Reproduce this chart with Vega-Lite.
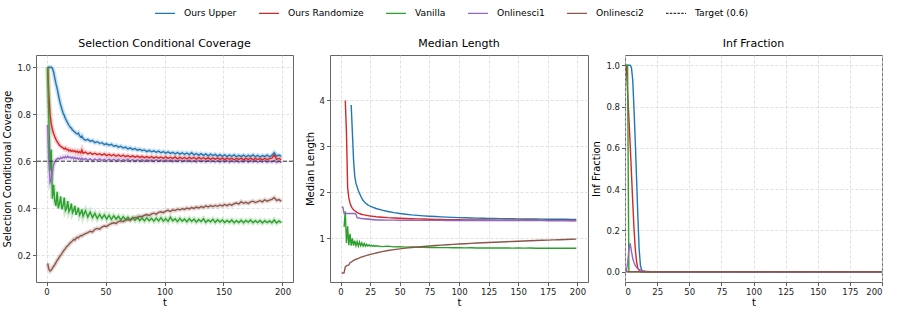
{
"$schema": "https://vega.github.io/schema/vega-lite/v6.json",
"padding": {"left": 2, "top": 2, "right": 5, "bottom": 5},
"autosize": {"type": "pad"},
"spacing": 37,
"bounds": "flush",
"config": {
  "font": "DejaVu Sans",
  "view": {"stroke": "#666", "strokeWidth": 1},
  "title": {"font": "DejaVu Sans", "fontSize": 11, "fontWeight": "normal", "color": "#000", "offset": 6},
  "axis": {"labelFont": "DejaVu Sans", "labelFontSize": 8.5, "labelColor": "#222", "titleFont": "DejaVu Sans", "titleFontSize": 10, "titleFontWeight": "normal", "titleColor": "#000", "tickColor": "#333", "tickSize": 3.5, "tickWidth": 0.8, "domain": false, "grid": true, "gridColor": "#d4d4d4", "gridDash": [3, 2], "gridWidth": 0.7, "labelPadding": 2},
  "axisX": {"titlePadding": 1},
  "axisY": {"titlePadding": 4},
  "line": {"strokeWidth": 1.4, "clip": true}
},
"datasets": {
"tgt": [{"s": "Target (0.6)", "v": 0.6}],
"p1": [
{"t":1,"Ours Upper":1.0,"Ours Randomize":1.0,"Vanilla":1.0,"Onlinesci1":0.755,"Onlinesci2":0.165},
{"t":2,"Ours Upper":1.0,"Ours Randomize":0.88,"Vanilla":0.78,"Onlinesci1":0.6,"Onlinesci2":0.14},
{"t":3,"Ours Upper":1.0,"Ours Randomize":0.8,"Vanilla":0.56,"Onlinesci1":0.51,"Onlinesci2":0.133},
{"t":4,"Ours Upper":1.0,"Ours Randomize":0.76,"Vanilla":0.65,"Onlinesci1":0.52,"Onlinesci2":0.137},
{"t":5,"Ours Upper":0.995,"Ours Randomize":0.735,"Vanilla":0.44,"Onlinesci1":0.555,"Onlinesci2":0.145},
{"t":6,"Ours Upper":0.98,"Ours Randomize":0.718,"Vanilla":0.5,"Onlinesci1":0.585,"Onlinesci2":0.152},
{"t":7,"Ours Upper":0.955,"Ours Randomize":0.705,"Vanilla":0.43,"Onlinesci1":0.597,"Onlinesci2":0.16},
{"t":8,"Ours Upper":0.93,"Ours Randomize":0.693,"Vanilla":0.41,"Onlinesci1":0.605,"Onlinesci2":0.168},
{"t":9,"Ours Upper":0.91,"Ours Randomize":0.683,"Vanilla":0.47,"Onlinesci1":0.61,"Onlinesci2":0.178},
{"t":10,"Ours Upper":0.885,"Ours Randomize":0.676,"Vanilla":0.4,"Onlinesci1":0.612,"Onlinesci2":0.185},
{"t":11,"Ours Upper":0.86,"Ours Randomize":0.668,"Vanilla":0.42,"Onlinesci1":0.609,"Onlinesci2":0.193},
{"t":12,"Ours Upper":0.84,"Ours Randomize":0.664,"Vanilla":0.45,"Onlinesci1":0.615,"Onlinesci2":0.2},
{"t":13,"Ours Upper":0.822,"Ours Randomize":0.66,"Vanilla":0.395,"Onlinesci1":0.612,"Onlinesci2":0.207},
{"t":14,"Ours Upper":0.806,"Ours Randomize":0.657,"Vanilla":0.41,"Onlinesci1":0.618,"Onlinesci2":0.215},
{"t":15,"Ours Upper":0.795,"Ours Randomize":0.652,"Vanilla":0.445,"Onlinesci1":0.614,"Onlinesci2":0.222},
{"t":16,"Ours Upper":0.782,"Ours Randomize":0.656,"Vanilla":0.39,"Onlinesci1":0.62,"Onlinesci2":0.228},
{"t":17,"Ours Upper":0.772,"Ours Randomize":0.649,"Vanilla":0.4,"Onlinesci1":0.615,"Onlinesci2":0.236},
{"t":18,"Ours Upper":0.762,"Ours Randomize":0.651,"Vanilla":0.43,"Onlinesci1":0.621,"Onlinesci2":0.24},
{"t":19,"Ours Upper":0.753,"Ours Randomize":0.644,"Vanilla":0.385,"Onlinesci1":0.616,"Onlinesci2":0.246},
{"t":20,"Ours Upper":0.745,"Ours Randomize":0.648,"Vanilla":0.395,"Onlinesci1":0.618,"Onlinesci2":0.252},
{"t":21,"Ours Upper":0.741,"Ours Randomize":0.642,"Vanilla":0.42,"Onlinesci1":0.613,"Onlinesci2":0.256},
{"t":22,"Ours Upper":0.733,"Ours Randomize":0.646,"Vanilla":0.38,"Onlinesci1":0.617,"Onlinesci2":0.261},
{"t":23,"Ours Upper":0.729,"Ours Randomize":0.641,"Vanilla":0.39,"Onlinesci1":0.611,"Onlinesci2":0.267},
{"t":24,"Ours Upper":0.724,"Ours Randomize":0.645,"Vanilla":0.41,"Onlinesci1":0.616,"Onlinesci2":0.264},
{"t":25,"Ours Upper":0.719,"Ours Randomize":0.638,"Vanilla":0.372,"Onlinesci1":0.61,"Onlinesci2":0.272},
{"t":26,"Ours Upper":0.716,"Ours Randomize":0.643,"Vanilla":0.385,"Onlinesci1":0.614,"Onlinesci2":0.276},
{"t":27,"Ours Upper":0.72,"Ours Randomize":0.636,"Vanilla":0.402,"Onlinesci1":0.608,"Onlinesci2":0.274},
{"t":28,"Ours Upper":0.709,"Ours Randomize":0.641,"Vanilla":0.37,"Onlinesci1":0.613,"Onlinesci2":0.28},
{"t":29,"Ours Upper":0.703,"Ours Randomize":0.635,"Vanilla":0.38,"Onlinesci1":0.607,"Onlinesci2":0.284},
{"t":30,"Ours Upper":0.707,"Ours Randomize":0.648,"Vanilla":0.395,"Onlinesci1":0.612,"Onlinesci2":0.282},
{"t":31,"Ours Upper":0.696,"Ours Randomize":0.634,"Vanilla":0.366,"Onlinesci1":0.606,"Onlinesci2":0.287},
{"t":33,"Ours Upper":0.689,"Ours Randomize":0.639,"Vanilla":0.39,"Onlinesci1":0.611,"Onlinesci2":0.292},
{"t":35,"Ours Upper":0.693,"Ours Randomize":0.631,"Vanilla":0.362,"Onlinesci1":0.604,"Onlinesci2":0.296},
{"t":37,"Ours Upper":0.685,"Ours Randomize":0.636,"Vanilla":0.384,"Onlinesci1":0.61,"Onlinesci2":0.302},
{"t":39,"Ours Upper":0.688,"Ours Randomize":0.629,"Vanilla":0.36,"Onlinesci1":0.603,"Onlinesci2":0.299},
{"t":41,"Ours Upper":0.679,"Ours Randomize":0.634,"Vanilla":0.378,"Onlinesci1":0.609,"Onlinesci2":0.31},
{"t":43,"Ours Upper":0.683,"Ours Randomize":0.628,"Vanilla":0.356,"Onlinesci1":0.604,"Onlinesci2":0.314},
{"t":45,"Ours Upper":0.676,"Ours Randomize":0.632,"Vanilla":0.374,"Onlinesci1":0.61,"Onlinesci2":0.311},
{"t":47,"Ours Upper":0.679,"Ours Randomize":0.626,"Vanilla":0.357,"Onlinesci1":0.603,"Onlinesci2":0.32},
{"t":49,"Ours Upper":0.671,"Ours Randomize":0.631,"Vanilla":0.372,"Onlinesci1":0.608,"Onlinesci2":0.324},
{"t":51,"Ours Upper":0.674,"Ours Randomize":0.624,"Vanilla":0.354,"Onlinesci1":0.602,"Onlinesci2":0.322},
{"t":53,"Ours Upper":0.668,"Ours Randomize":0.629,"Vanilla":0.37,"Onlinesci1":0.609,"Onlinesci2":0.33},
{"t":55,"Ours Upper":0.672,"Ours Randomize":0.623,"Vanilla":0.352,"Onlinesci1":0.603,"Onlinesci2":0.334},
{"t":57,"Ours Upper":0.664,"Ours Randomize":0.628,"Vanilla":0.368,"Onlinesci1":0.608,"Onlinesci2":0.338},
{"t":59,"Ours Upper":0.667,"Ours Randomize":0.621,"Vanilla":0.354,"Onlinesci1":0.602,"Onlinesci2":0.335},
{"t":61,"Ours Upper":0.66,"Ours Randomize":0.627,"Vanilla":0.366,"Onlinesci1":0.608,"Onlinesci2":0.343},
{"t":63,"Ours Upper":0.664,"Ours Randomize":0.62,"Vanilla":0.35,"Onlinesci1":0.601,"Onlinesci2":0.346},
{"t":65,"Ours Upper":0.656,"Ours Randomize":0.626,"Vanilla":0.364,"Onlinesci1":0.607,"Onlinesci2":0.343},
{"t":67,"Ours Upper":0.66,"Ours Randomize":0.619,"Vanilla":0.351,"Onlinesci1":0.602,"Onlinesci2":0.35},
{"t":69,"Ours Upper":0.652,"Ours Randomize":0.624,"Vanilla":0.362,"Onlinesci1":0.608,"Onlinesci2":0.352},
{"t":71,"Ours Upper":0.657,"Ours Randomize":0.618,"Vanilla":0.35,"Onlinesci1":0.601,"Onlinesci2":0.349},
{"t":73,"Ours Upper":0.65,"Ours Randomize":0.623,"Vanilla":0.36,"Onlinesci1":0.607,"Onlinesci2":0.357},
{"t":75,"Ours Upper":0.654,"Ours Randomize":0.617,"Vanilla":0.348,"Onlinesci1":0.6,"Onlinesci2":0.361},
{"t":77,"Ours Upper":0.647,"Ours Randomize":0.622,"Vanilla":0.362,"Onlinesci1":0.606,"Onlinesci2":0.358},
{"t":79,"Ours Upper":0.651,"Ours Randomize":0.616,"Vanilla":0.347,"Onlinesci1":0.601,"Onlinesci2":0.366},
{"t":81,"Ours Upper":0.645,"Ours Randomize":0.621,"Vanilla":0.358,"Onlinesci1":0.607,"Onlinesci2":0.364},
{"t":83,"Ours Upper":0.648,"Ours Randomize":0.615,"Vanilla":0.346,"Onlinesci1":0.6,"Onlinesci2":0.37},
{"t":85,"Ours Upper":0.641,"Ours Randomize":0.62,"Vanilla":0.359,"Onlinesci1":0.606,"Onlinesci2":0.373},
{"t":87,"Ours Upper":0.646,"Ours Randomize":0.614,"Vanilla":0.347,"Onlinesci1":0.601,"Onlinesci2":0.369},
{"t":89,"Ours Upper":0.64,"Ours Randomize":0.62,"Vanilla":0.357,"Onlinesci1":0.605,"Onlinesci2":0.376},
{"t":91,"Ours Upper":0.644,"Ours Randomize":0.613,"Vanilla":0.345,"Onlinesci1":0.599,"Onlinesci2":0.379},
{"t":93,"Ours Upper":0.638,"Ours Randomize":0.619,"Vanilla":0.358,"Onlinesci1":0.606,"Onlinesci2":0.375},
{"t":95,"Ours Upper":0.643,"Ours Randomize":0.613,"Vanilla":0.346,"Onlinesci1":0.6,"Onlinesci2":0.382},
{"t":97,"Ours Upper":0.636,"Ours Randomize":0.618,"Vanilla":0.36,"Onlinesci1":0.605,"Onlinesci2":0.385},
{"t":99,"Ours Upper":0.641,"Ours Randomize":0.612,"Vanilla":0.345,"Onlinesci1":0.599,"Onlinesci2":0.381},
{"t":101,"Ours Upper":0.634,"Ours Randomize":0.619,"Vanilla":0.356,"Onlinesci1":0.606,"Onlinesci2":0.388},
{"t":103,"Ours Upper":0.64,"Ours Randomize":0.612,"Vanilla":0.344,"Onlinesci1":0.6,"Onlinesci2":0.391},
{"t":105,"Ours Upper":0.633,"Ours Randomize":0.617,"Vanilla":0.362,"Onlinesci1":0.605,"Onlinesci2":0.386},
{"t":107,"Ours Upper":0.638,"Ours Randomize":0.611,"Vanilla":0.346,"Onlinesci1":0.598,"Onlinesci2":0.393},
{"t":109,"Ours Upper":0.631,"Ours Randomize":0.618,"Vanilla":0.355,"Onlinesci1":0.604,"Onlinesci2":0.39},
{"t":111,"Ours Upper":0.637,"Ours Randomize":0.61,"Vanilla":0.343,"Onlinesci1":0.599,"Onlinesci2":0.396},
{"t":113,"Ours Upper":0.63,"Ours Randomize":0.617,"Vanilla":0.357,"Onlinesci1":0.605,"Onlinesci2":0.393},
{"t":115,"Ours Upper":0.636,"Ours Randomize":0.611,"Vanilla":0.345,"Onlinesci1":0.598,"Onlinesci2":0.398},
{"t":117,"Ours Upper":0.629,"Ours Randomize":0.616,"Vanilla":0.354,"Onlinesci1":0.604,"Onlinesci2":0.395},
{"t":119,"Ours Upper":0.635,"Ours Randomize":0.61,"Vanilla":0.342,"Onlinesci1":0.599,"Onlinesci2":0.401},
{"t":121,"Ours Upper":0.628,"Ours Randomize":0.617,"Vanilla":0.356,"Onlinesci1":0.605,"Onlinesci2":0.397},
{"t":123,"Ours Upper":0.636,"Ours Randomize":0.611,"Vanilla":0.344,"Onlinesci1":0.598,"Onlinesci2":0.403},
{"t":125,"Ours Upper":0.627,"Ours Randomize":0.616,"Vanilla":0.354,"Onlinesci1":0.603,"Onlinesci2":0.399},
{"t":127,"Ours Upper":0.633,"Ours Randomize":0.609,"Vanilla":0.341,"Onlinesci1":0.597,"Onlinesci2":0.405},
{"t":129,"Ours Upper":0.626,"Ours Randomize":0.616,"Vanilla":0.352,"Onlinesci1":0.604,"Onlinesci2":0.401},
{"t":131,"Ours Upper":0.632,"Ours Randomize":0.61,"Vanilla":0.343,"Onlinesci1":0.598,"Onlinesci2":0.407},
{"t":133,"Ours Upper":0.625,"Ours Randomize":0.615,"Vanilla":0.355,"Onlinesci1":0.603,"Onlinesci2":0.403},
{"t":135,"Ours Upper":0.631,"Ours Randomize":0.609,"Vanilla":0.34,"Onlinesci1":0.597,"Onlinesci2":0.41},
{"t":137,"Ours Upper":0.623,"Ours Randomize":0.615,"Vanilla":0.35,"Onlinesci1":0.604,"Onlinesci2":0.405},
{"t":139,"Ours Upper":0.63,"Ours Randomize":0.608,"Vanilla":0.342,"Onlinesci1":0.598,"Onlinesci2":0.411},
{"t":141,"Ours Upper":0.624,"Ours Randomize":0.614,"Vanilla":0.353,"Onlinesci1":0.602,"Onlinesci2":0.407},
{"t":143,"Ours Upper":0.629,"Ours Randomize":0.609,"Vanilla":0.34,"Onlinesci1":0.597,"Onlinesci2":0.412},
{"t":145,"Ours Upper":0.622,"Ours Randomize":0.614,"Vanilla":0.351,"Onlinesci1":0.603,"Onlinesci2":0.408},
{"t":147,"Ours Upper":0.628,"Ours Randomize":0.608,"Vanilla":0.341,"Onlinesci1":0.596,"Onlinesci2":0.414},
{"t":149,"Ours Upper":0.621,"Ours Randomize":0.613,"Vanilla":0.35,"Onlinesci1":0.602,"Onlinesci2":0.41},
{"t":151,"Ours Upper":0.627,"Ours Randomize":0.607,"Vanilla":0.339,"Onlinesci1":0.597,"Onlinesci2":0.416},
{"t":153,"Ours Upper":0.62,"Ours Randomize":0.613,"Vanilla":0.348,"Onlinesci1":0.603,"Onlinesci2":0.411},
{"t":155,"Ours Upper":0.626,"Ours Randomize":0.608,"Vanilla":0.34,"Onlinesci1":0.596,"Onlinesci2":0.417},
{"t":157,"Ours Upper":0.621,"Ours Randomize":0.612,"Vanilla":0.35,"Onlinesci1":0.602,"Onlinesci2":0.413},
{"t":159,"Ours Upper":0.627,"Ours Randomize":0.606,"Vanilla":0.338,"Onlinesci1":0.597,"Onlinesci2":0.419},
{"t":161,"Ours Upper":0.619,"Ours Randomize":0.612,"Vanilla":0.347,"Onlinesci1":0.603,"Onlinesci2":0.422},
{"t":163,"Ours Upper":0.625,"Ours Randomize":0.607,"Vanilla":0.339,"Onlinesci1":0.596,"Onlinesci2":0.418},
{"t":165,"Ours Upper":0.62,"Ours Randomize":0.613,"Vanilla":0.349,"Onlinesci1":0.601,"Onlinesci2":0.428},
{"t":167,"Ours Upper":0.626,"Ours Randomize":0.606,"Vanilla":0.338,"Onlinesci1":0.597,"Onlinesci2":0.421},
{"t":169,"Ours Upper":0.619,"Ours Randomize":0.612,"Vanilla":0.348,"Onlinesci1":0.603,"Onlinesci2":0.425},
{"t":171,"Ours Upper":0.625,"Ours Randomize":0.607,"Vanilla":0.34,"Onlinesci1":0.596,"Onlinesci2":0.42},
{"t":173,"Ours Upper":0.62,"Ours Randomize":0.613,"Vanilla":0.35,"Onlinesci1":0.602,"Onlinesci2":0.427},
{"t":175,"Ours Upper":0.627,"Ours Randomize":0.606,"Vanilla":0.338,"Onlinesci1":0.597,"Onlinesci2":0.43},
{"t":177,"Ours Upper":0.619,"Ours Randomize":0.612,"Vanilla":0.347,"Onlinesci1":0.603,"Onlinesci2":0.424},
{"t":179,"Ours Upper":0.625,"Ours Randomize":0.607,"Vanilla":0.339,"Onlinesci1":0.596,"Onlinesci2":0.428},
{"t":181,"Ours Upper":0.618,"Ours Randomize":0.611,"Vanilla":0.348,"Onlinesci1":0.601,"Onlinesci2":0.432},
{"t":183,"Ours Upper":0.624,"Ours Randomize":0.606,"Vanilla":0.337,"Onlinesci1":0.597,"Onlinesci2":0.427},
{"t":185,"Ours Upper":0.62,"Ours Randomize":0.612,"Vanilla":0.347,"Onlinesci1":0.602,"Onlinesci2":0.436},
{"t":187,"Ours Upper":0.626,"Ours Randomize":0.607,"Vanilla":0.339,"Onlinesci1":0.596,"Onlinesci2":0.43},
{"t":189,"Ours Upper":0.619,"Ours Randomize":0.611,"Vanilla":0.346,"Onlinesci1":0.601,"Onlinesci2":0.434},
{"t":191,"Ours Upper":0.625,"Ours Randomize":0.613,"Vanilla":0.338,"Onlinesci1":0.597,"Onlinesci2":0.438},
{"t":193,"Ours Upper":0.636,"Ours Randomize":0.626,"Vanilla":0.35,"Onlinesci1":0.604,"Onlinesci2":0.445},
{"t":195,"Ours Upper":0.622,"Ours Randomize":0.608,"Vanilla":0.337,"Onlinesci1":0.595,"Onlinesci2":0.433},
{"t":197,"Ours Upper":0.626,"Ours Randomize":0.612,"Vanilla":0.346,"Onlinesci1":0.6,"Onlinesci2":0.437},
{"t":199,"Ours Upper":0.621,"Ours Randomize":0.607,"Vanilla":0.338,"Onlinesci1":0.594,"Onlinesci2":0.429}
],
"p2": [
{"t":1,"Onlinesci1":1.68,"Onlinesci2":0.24},
{"t":2,"Onlinesci1":1.68,"Onlinesci2":0.245},
{"t":3,"Vanilla":1.25,"Onlinesci1":1.54,"Onlinesci2":0.25},
{"t":4,"Ours Randomize":4.0,"Vanilla":1.59,"Onlinesci1":1.54,"Onlinesci2":0.38},
{"t":5,"Ours Randomize":3.3,"Vanilla":0.9,"Onlinesci1":1.54,"Onlinesci2":0.4},
{"t":6,"Ours Randomize":2.1,"Vanilla":1.26,"Onlinesci1":1.54,"Onlinesci2":0.41},
{"t":7,"Ours Randomize":1.88,"Vanilla":0.85,"Onlinesci1":1.54,"Onlinesci2":0.42},
{"t":8,"Ours Randomize":1.77,"Vanilla":1.1,"Onlinesci1":1.54,"Onlinesci2":0.47},
{"t":9,"Ours Upper":3.9,"Ours Randomize":1.7,"Vanilla":0.84,"Onlinesci1":1.54,"Onlinesci2":0.48},
{"t":10,"Ours Upper":3.3,"Ours Randomize":1.65,"Vanilla":1.0,"Onlinesci1":1.54,"Onlinesci2":0.5},
{"t":11,"Ours Upper":2.7,"Ours Randomize":1.62,"Vanilla":0.84,"Onlinesci1":1.54,"Onlinesci2":0.52},
{"t":12,"Ours Upper":2.35,"Ours Randomize":1.6,"Vanilla":0.95,"Onlinesci1":1.54,"Onlinesci2":0.53},
{"t":13,"Ours Upper":2.2,"Ours Randomize":1.58,"Vanilla":0.84,"Onlinesci1":1.53,"Onlinesci2":0.545},
{"t":14,"Ours Upper":2.12,"Ours Randomize":1.565,"Vanilla":0.93,"Onlinesci1":1.45,"Onlinesci2":0.555},
{"t":15,"Ours Upper":2.04,"Ours Randomize":1.55,"Vanilla":0.83,"Onlinesci1":1.44,"Onlinesci2":0.565},
{"t":16,"Ours Upper":1.98,"Ours Randomize":1.54,"Vanilla":0.92,"Onlinesci1":1.445,"Onlinesci2":0.575},
{"t":17,"Ours Upper":1.92,"Ours Randomize":1.53,"Vanilla":0.84,"Onlinesci1":1.43,"Onlinesci2":0.585},
{"t":18,"Ours Upper":1.87,"Ours Randomize":1.52,"Vanilla":0.9,"Onlinesci1":1.435,"Onlinesci2":0.595},
{"t":19,"Ours Upper":1.83,"Ours Randomize":1.515,"Vanilla":0.83,"Onlinesci1":1.425,"Onlinesci2":0.605},
{"t":20,"Ours Upper":1.8,"Ours Randomize":1.51,"Vanilla":0.89,"Onlinesci1":1.43,"Onlinesci2":0.612},
{"t":21,"Ours Upper":1.77,"Ours Randomize":1.505,"Vanilla":0.83,"Onlinesci1":1.42,"Onlinesci2":0.62},
{"t":22,"Ours Upper":1.75,"Ours Randomize":1.5,"Vanilla":0.87,"Onlinesci1":1.425,"Onlinesci2":0.628},
{"t":23,"Ours Upper":1.73,"Ours Randomize":1.495,"Vanilla":0.83,"Onlinesci1":1.415,"Onlinesci2":0.635},
{"t":24,"Ours Upper":1.715,"Ours Randomize":1.49,"Vanilla":0.86,"Onlinesci1":1.42,"Onlinesci2":0.642},
{"t":25,"Ours Upper":1.7,"Ours Randomize":1.487,"Vanilla":0.83,"Onlinesci1":1.41,"Onlinesci2":0.65},
{"t":26,"Ours Upper":1.69,"Ours Randomize":1.484,"Vanilla":0.85,"Onlinesci1":1.415,"Onlinesci2":0.656},
{"t":27,"Ours Upper":1.68,"Ours Randomize":1.48,"Vanilla":0.825,"Onlinesci1":1.405,"Onlinesci2":0.662},
{"t":28,"Ours Upper":1.67,"Ours Randomize":1.477,"Vanilla":0.845,"Onlinesci1":1.41,"Onlinesci2":0.668},
{"t":29,"Ours Upper":1.66,"Ours Randomize":1.474,"Vanilla":0.825,"Onlinesci1":1.405,"Onlinesci2":0.674},
{"t":30,"Ours Upper":1.65,"Ours Randomize":1.471,"Vanilla":0.84,"Onlinesci1":1.4,"Onlinesci2":0.68},
{"t":35,"Ours Upper":1.615,"Ours Randomize":1.46,"Vanilla":0.82,"Onlinesci1":1.4,"Onlinesci2":0.71},
{"t":40,"Ours Upper":1.585,"Ours Randomize":1.45,"Vanilla":0.83,"Onlinesci1":1.397,"Onlinesci2":0.735},
{"t":45,"Ours Upper":1.56,"Ours Randomize":1.443,"Vanilla":0.815,"Onlinesci1":1.396,"Onlinesci2":0.755},
{"t":50,"Ours Upper":1.54,"Ours Randomize":1.437,"Vanilla":0.82,"Onlinesci1":1.395,"Onlinesci2":0.772},
{"t":55,"Ours Upper":1.525,"Ours Randomize":1.432,"Vanilla":0.81,"Onlinesci1":1.394,"Onlinesci2":0.787},
{"t":60,"Ours Upper":1.51,"Ours Randomize":1.428,"Vanilla":0.812,"Onlinesci1":1.393,"Onlinesci2":0.8},
{"t":65,"Ours Upper":1.5,"Ours Randomize":1.424,"Vanilla":0.805,"Onlinesci1":1.392,"Onlinesci2":0.812},
{"t":70,"Ours Upper":1.49,"Ours Randomize":1.42,"Vanilla":0.806,"Onlinesci1":1.392,"Onlinesci2":0.823},
{"t":75,"Ours Upper":1.482,"Ours Randomize":1.416,"Vanilla":0.8,"Onlinesci1":1.391,"Onlinesci2":0.833},
{"t":80,"Ours Upper":1.475,"Ours Randomize":1.413,"Vanilla":0.802,"Onlinesci1":1.391,"Onlinesci2":0.843},
{"t":85,"Ours Upper":1.468,"Ours Randomize":1.41,"Vanilla":0.797,"Onlinesci1":1.39,"Onlinesci2":0.852},
{"t":90,"Ours Upper":1.462,"Ours Randomize":1.408,"Vanilla":0.799,"Onlinesci1":1.39,"Onlinesci2":0.861},
{"t":95,"Ours Upper":1.456,"Ours Randomize":1.406,"Vanilla":0.795,"Onlinesci1":1.389,"Onlinesci2":0.869},
{"t":100,"Ours Upper":1.451,"Ours Randomize":1.404,"Vanilla":0.797,"Onlinesci1":1.389,"Onlinesci2":0.877},
{"t":105,"Ours Upper":1.447,"Ours Randomize":1.402,"Vanilla":0.793,"Onlinesci1":1.388,"Onlinesci2":0.884},
{"t":110,"Ours Upper":1.443,"Ours Randomize":1.401,"Vanilla":0.795,"Onlinesci1":1.388,"Onlinesci2":0.891},
{"t":115,"Ours Upper":1.44,"Ours Randomize":1.4,"Vanilla":0.791,"Onlinesci1":1.388,"Onlinesci2":0.898},
{"t":120,"Ours Upper":1.437,"Ours Randomize":1.399,"Vanilla":0.793,"Onlinesci1":1.387,"Onlinesci2":0.904},
{"t":125,"Ours Upper":1.434,"Ours Randomize":1.398,"Vanilla":0.79,"Onlinesci1":1.387,"Onlinesci2":0.91},
{"t":130,"Ours Upper":1.432,"Ours Randomize":1.397,"Vanilla":0.792,"Onlinesci1":1.387,"Onlinesci2":0.916},
{"t":135,"Ours Upper":1.43,"Ours Randomize":1.396,"Vanilla":0.789,"Onlinesci1":1.386,"Onlinesci2":0.922},
{"t":140,"Ours Upper":1.428,"Ours Randomize":1.395,"Vanilla":0.791,"Onlinesci1":1.386,"Onlinesci2":0.927},
{"t":145,"Ours Upper":1.426,"Ours Randomize":1.395,"Vanilla":0.788,"Onlinesci1":1.386,"Onlinesci2":0.932},
{"t":150,"Ours Upper":1.424,"Ours Randomize":1.394,"Vanilla":0.79,"Onlinesci1":1.386,"Onlinesci2":0.937},
{"t":155,"Ours Upper":1.422,"Ours Randomize":1.394,"Vanilla":0.787,"Onlinesci1":1.385,"Onlinesci2":0.942},
{"t":160,"Ours Upper":1.421,"Ours Randomize":1.393,"Vanilla":0.789,"Onlinesci1":1.385,"Onlinesci2":0.947},
{"t":165,"Ours Upper":1.42,"Ours Randomize":1.393,"Vanilla":0.786,"Onlinesci1":1.385,"Onlinesci2":0.952},
{"t":170,"Ours Upper":1.418,"Ours Randomize":1.392,"Vanilla":0.788,"Onlinesci1":1.385,"Onlinesci2":0.957},
{"t":175,"Ours Upper":1.417,"Ours Randomize":1.392,"Vanilla":0.785,"Onlinesci1":1.384,"Onlinesci2":0.961},
{"t":180,"Ours Upper":1.416,"Ours Randomize":1.391,"Vanilla":0.787,"Onlinesci1":1.384,"Onlinesci2":0.966},
{"t":185,"Ours Upper":1.415,"Ours Randomize":1.391,"Vanilla":0.784,"Onlinesci1":1.384,"Onlinesci2":0.97},
{"t":190,"Ours Upper":1.414,"Ours Randomize":1.39,"Vanilla":0.786,"Onlinesci1":1.384,"Onlinesci2":0.975},
{"t":195,"Ours Upper":1.413,"Ours Randomize":1.39,"Vanilla":0.783,"Onlinesci1":1.383,"Onlinesci2":0.979},
{"t":199,"Ours Upper":1.412,"Ours Randomize":1.39,"Vanilla":0.784,"Onlinesci1":1.383,"Onlinesci2":0.983}
],
"p3": [
{"t":1,"Ours Upper":1,"Ours Randomize":1,"Vanilla":1,"Onlinesci1":0,"Onlinesci2":0},
{"t":2,"Ours Upper":1,"Ours Randomize":0.87,"Vanilla":1,"Onlinesci1":0.04,"Onlinesci2":0},
{"t":3,"Ours Upper":1,"Ours Randomize":0.75,"Vanilla":0,"Onlinesci1":0.105,"Onlinesci2":0},
{"t":4,"Ours Upper":1,"Ours Randomize":0.62,"Vanilla":0,"Onlinesci1":0.138,"Onlinesci2":0},
{"t":5,"Ours Upper":0.99,"Ours Randomize":0.48,"Vanilla":0,"Onlinesci1":0.1,"Onlinesci2":0},
{"t":6,"Ours Upper":0.93,"Ours Randomize":0.34,"Vanilla":0,"Onlinesci1":0.065,"Onlinesci2":0},
{"t":7,"Ours Upper":0.79,"Ours Randomize":0.21,"Vanilla":0,"Onlinesci1":0.045,"Onlinesci2":0},
{"t":8,"Ours Upper":0.63,"Ours Randomize":0.11,"Vanilla":0,"Onlinesci1":0.03,"Onlinesci2":0},
{"t":9,"Ours Upper":0.45,"Ours Randomize":0.05,"Vanilla":0,"Onlinesci1":0.02,"Onlinesci2":0},
{"t":10,"Ours Upper":0.27,"Ours Randomize":0.018,"Vanilla":0,"Onlinesci1":0.014,"Onlinesci2":0},
{"t":11,"Ours Upper":0.11,"Ours Randomize":0.006,"Vanilla":0,"Onlinesci1":0.011,"Onlinesci2":0},
{"t":12,"Ours Upper":0.03,"Ours Randomize":0,"Vanilla":0,"Onlinesci1":0.008,"Onlinesci2":0},
{"t":13,"Ours Upper":0.008,"Ours Randomize":0,"Vanilla":0,"Onlinesci1":0.006,"Onlinesci2":0},
{"t":14,"Ours Upper":0.002,"Ours Randomize":0,"Vanilla":0,"Onlinesci1":0.004,"Onlinesci2":0},
{"t":15,"Ours Upper":0,"Ours Randomize":0,"Vanilla":0,"Onlinesci1":0.003,"Onlinesci2":0},
{"t":16,"Ours Upper":0,"Ours Randomize":0,"Vanilla":0,"Onlinesci1":0.002,"Onlinesci2":0},
{"t":18,"Ours Upper":0,"Ours Randomize":0,"Vanilla":0,"Onlinesci1":0.001,"Onlinesci2":0},
{"t":20,"Ours Upper":0,"Ours Randomize":0,"Vanilla":0,"Onlinesci1":0,"Onlinesci2":0},
{"t":50,"Ours Upper":0,"Ours Randomize":0,"Vanilla":0,"Onlinesci1":0,"Onlinesci2":0},
{"t":100,"Ours Upper":0,"Ours Randomize":0,"Vanilla":0,"Onlinesci1":0,"Onlinesci2":0},
{"t":150,"Ours Upper":0,"Ours Randomize":0,"Vanilla":0,"Onlinesci1":0,"Onlinesci2":0},
{"t":200,"Ours Upper":0,"Ours Randomize":0,"Vanilla":0,"Onlinesci1":0,"Onlinesci2":0}
]
},
"hconcat": [
{
  "width": 257, "height": 227,
  "title": "Selection Conditional Coverage",
  "layer": [
    {
      "data": {"name": "p1"},
      "transform": [{"fold": ["Ours Upper", "Ours Randomize", "Vanilla", "Onlinesci1", "Onlinesci2"], "as": ["s", "v"]}],
      "mark": {"type": "line", "strokeWidth": 4.5, "strokeOpacity": 0.22, "clip": true},
      "encoding": {
        "x": {"field": "t", "type": "quantitative", "scale": {"domain": [-8.9, 208.9], "nice": false, "zero": false}, "axis": {"values": [0, 25, 50, 75, 100, 125, 150, 175, 200], "title": "t"}},
        "y": {"field": "v", "type": "quantitative", "scale": {"domain": [0.086, 1.052], "nice": false, "zero": false}, "axis": {"values": [0.2, 0.4, 0.6, 0.8, 1.0], "format": ".1f", "title": "Selection Conditional Coverage"}},
        "color": {"field": "s", "type": "nominal",
          "scale": {"domain": ["Ours Upper", "Ours Randomize", "Vanilla", "Onlinesci1", "Onlinesci2", "Target (0.6)"], "range": ["#1f77b4", "#d62728", "#2ca02c", "#9467bd", "#8c564b", "#333333"]},
          "legend": {"orient": "none", "legendX": 118, "legendY": -53, "direction": "horizontal", "columns": 6, "title": null,
            "symbolType": "stroke", "symbolSize": 400, "symbolStrokeWidth": 1.5, "labelFont": "DejaVu Sans", "labelFontSize": 9.2, "labelColor": "#000", "labelOffset": 8, "columnPadding": 19, "padding": 0,
            "encode": {"symbols": {"update": {"opacity": {"value": 1}, "strokeWidth": {"value": 1.5}}}}}},
        "strokeDash": {"field": "s", "type": "nominal",
          "scale": {"domain": ["Ours Upper", "Ours Randomize", "Vanilla", "Onlinesci1", "Onlinesci2", "Target (0.6)"], "range": [[1, 0], [1, 0], [1, 0], [1, 0], [1, 0], [2.5, 1.3]]},
          "legend": {"orient": "none", "legendX": 118, "legendY": -53, "direction": "horizontal", "columns": 6, "title": null,
            "symbolType": "stroke", "symbolSize": 400, "symbolStrokeWidth": 1.5, "labelFont": "DejaVu Sans", "labelFontSize": 9.2, "labelColor": "#000", "labelOffset": 8, "columnPadding": 19, "padding": 0,
            "encode": {"symbols": {"update": {"opacity": {"value": 1}, "strokeWidth": {"value": 1.5}}}}}}
      }
    },
    {"data": {"name": "p1"}, "mark": "line", "encoding": {"x": {"field": "t", "type": "quantitative"}, "y": {"field": "Ours Upper", "type": "quantitative", "axis": {"title": "Selection Conditional Coverage"}}, "color": {"datum": "Ours Upper"}}},
    {"data": {"name": "p1"}, "mark": "line", "encoding": {"x": {"field": "t", "type": "quantitative"}, "y": {"field": "Ours Randomize", "type": "quantitative", "axis": {"title": "Selection Conditional Coverage"}}, "color": {"datum": "Ours Randomize"}}},
    {"data": {"name": "p1"}, "mark": "line", "encoding": {"x": {"field": "t", "type": "quantitative"}, "y": {"field": "Vanilla", "type": "quantitative", "axis": {"title": "Selection Conditional Coverage"}}, "color": {"datum": "Vanilla"}}},
    {"data": {"name": "p1"}, "mark": "line", "encoding": {"x": {"field": "t", "type": "quantitative"}, "y": {"field": "Onlinesci1", "type": "quantitative", "axis": {"title": "Selection Conditional Coverage"}}, "color": {"datum": "Onlinesci1"}}},
    {"data": {"name": "p1"}, "mark": "line", "encoding": {"x": {"field": "t", "type": "quantitative"}, "y": {"field": "Onlinesci2", "type": "quantitative", "axis": {"title": "Selection Conditional Coverage"}}, "color": {"datum": "Onlinesci2"}}},
    {
      "data": {"name": "tgt"},
      "mark": {"type": "rule", "strokeDash": [4, 2], "strokeWidth": 1},
      "encoding": {
        "y": {"field": "v", "type": "quantitative", "axis": {"title": "Selection Conditional Coverage"}},
        "color": {"field": "s", "type": "nominal"}
      }
    }
  ]
},
{
  "width": 258, "height": 227,
  "title": "Median Length",
  "data": {"name": "p2"},
  "encoding": {
    "x": {"field": "t", "type": "quantitative", "scale": {"domain": [-8.9, 208.9], "nice": false, "zero": false}, "axis": {"values": [0, 25, 50, 75, 100, 125, 150, 175, 200], "title": "t"}}
  },
  "layer": [
    {"mark": "line", "encoding": {"y": {"field": "Ours Upper", "type": "quantitative", "scale": {"domain": [0.05, 4.99], "nice": false, "zero": false}, "axis": {"values": [1, 2, 3, 4], "title": "Median Length"}}, "color": {"datum": "Ours Upper"}}},
    {"mark": "line", "encoding": {"y": {"field": "Ours Randomize", "type": "quantitative", "axis": {"title": "Median Length"}}, "color": {"datum": "Ours Randomize"}}},
    {"mark": "line", "encoding": {"y": {"field": "Vanilla", "type": "quantitative", "axis": {"title": "Median Length"}}, "color": {"datum": "Vanilla"}}},
    {"mark": "line", "encoding": {"y": {"field": "Onlinesci1", "type": "quantitative", "axis": {"title": "Median Length"}}, "color": {"datum": "Onlinesci1"}}},
    {"mark": "line", "encoding": {"y": {"field": "Onlinesci2", "type": "quantitative", "axis": {"title": "Median Length"}}, "color": {"datum": "Onlinesci2"}}}
  ]
},
{
  "width": 257, "height": 227,
  "title": "Inf Fraction",
  "data": {"name": "p3"},
  "encoding": {
    "x": {"field": "t", "type": "quantitative", "scale": {"domain": [0, 200], "nice": false, "zero": false}, "axis": {"values": [0, 25, 50, 75, 100, 125, 150, 175, 200], "title": "t"}}
  },
  "layer": [
    {"mark": "line", "encoding": {"y": {"field": "Ours Upper", "type": "quantitative", "scale": {"domain": [-0.05, 1.05], "nice": false, "zero": false}, "axis": {"values": [0, 0.2, 0.4, 0.6, 0.8, 1.0], "format": ".1f", "title": "Inf Fraction"}}, "color": {"datum": "Ours Upper"}}},
    {"mark": "line", "encoding": {"y": {"field": "Ours Randomize", "type": "quantitative", "axis": {"title": "Inf Fraction"}}, "color": {"datum": "Ours Randomize"}}},
    {"mark": "line", "encoding": {"y": {"field": "Vanilla", "type": "quantitative", "axis": {"title": "Inf Fraction"}}, "color": {"datum": "Vanilla"}}},
    {"mark": "line", "encoding": {"y": {"field": "Onlinesci1", "type": "quantitative", "axis": {"title": "Inf Fraction"}}, "color": {"datum": "Onlinesci1"}}},
    {"mark": "line", "encoding": {"y": {"field": "Onlinesci2", "type": "quantitative", "axis": {"title": "Inf Fraction"}}, "color": {"datum": "Onlinesci2"}}}
  ]
}
]
}
